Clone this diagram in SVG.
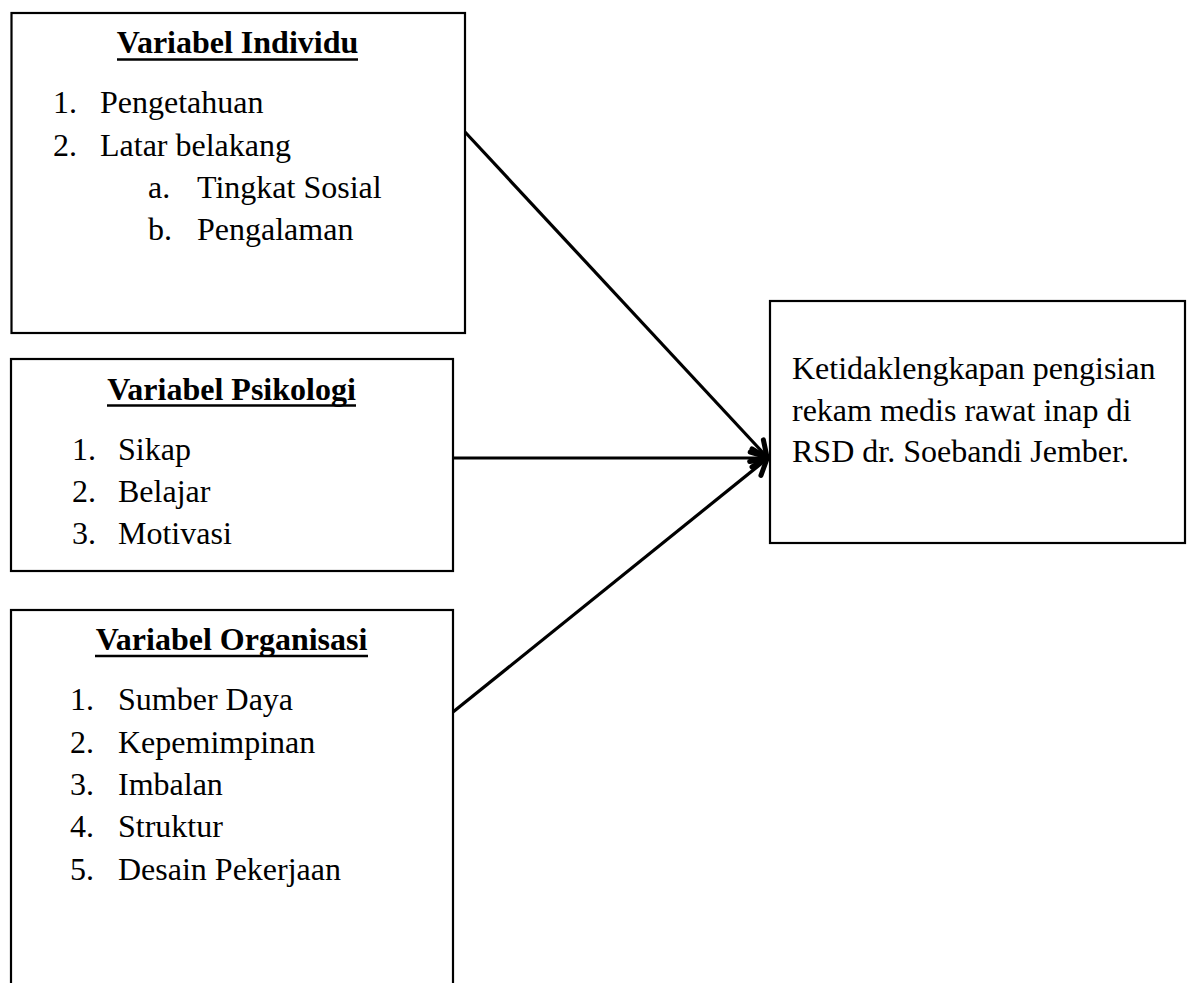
<svg xmlns="http://www.w3.org/2000/svg" width="1192" height="983" viewBox="0 0 1192 983">
<defs>
<style>
.box{fill:#fff;stroke:#000;stroke-width:2.2}
.t{font-family:'Liberation Serif','Times New Roman',serif;font-size:32px;fill:#000}
.h{font-family:'Liberation Serif','Times New Roman',serif;font-size:32px;font-weight:bold;fill:#000}
.ul{stroke:#000;stroke-width:2.5}
.c{stroke:#000;stroke-width:3.2;fill:none}
</style>
<marker id="arr" markerUnits="userSpaceOnUse" markerWidth="30" markerHeight="30" viewBox="-20 -15 24 30" refX="0" refY="0" orient="auto">
<path d="M-15,-9 L0,0 L-15,9" fill="none" stroke="#000" stroke-width="5" stroke-linecap="round" stroke-linejoin="round"/>
</marker>
</defs>
<rect width="1192" height="983" fill="#fff"/>
<g id="connectors">
<line class="c" x1="465" y1="132" x2="767" y2="457" marker-end="url(#arr)"/>
<line class="c" x1="453" y1="458" x2="767" y2="458" marker-end="url(#arr)"/>
<line class="c" x1="453" y1="712" x2="767" y2="459" marker-end="url(#arr)"/>
</g>
<g id="individu">
<rect class="box" x="11.5" y="13" width="453.5" height="320"/>
<text class="h" x="237.5" y="53" text-anchor="middle">Variabel Individu</text>
<line class="ul" x1="117" y1="59.5" x2="358" y2="59.5"/>
<text class="t" x="53" y="113">1.</text><text class="t" x="100" y="113">Pengetahuan</text>
<text class="t" x="53" y="156">2.</text><text class="t" x="100" y="156">Latar belakang</text>
<text class="t" x="148" y="198">a.</text><text class="t" x="197" y="198">Tingkat Sosial</text>
<text class="t" x="148" y="240">b.</text><text class="t" x="197" y="240">Pengalaman</text>
</g>
<g id="psikologi">
<rect class="box" x="11" y="359" width="442" height="212"/>
<text class="h" x="231.5" y="400" text-anchor="middle">Variabel Psikologi</text>
<line class="ul" x1="107" y1="405.5" x2="356" y2="405.5"/>
<text class="t" x="72" y="460">1.</text><text class="t" x="118" y="460">Sikap</text>
<text class="t" x="72" y="502">2.</text><text class="t" x="118" y="502">Belajar</text>
<text class="t" x="72" y="544">3.</text><text class="t" x="118" y="544">Motivasi</text>
</g>
<g id="organisasi">
<rect class="box" x="11" y="610" width="442" height="400"/>
<text class="h" x="231.5" y="650" text-anchor="middle">Variabel Organisasi</text>
<line class="ul" x1="95" y1="656" x2="368" y2="656"/>
<text class="t" x="70" y="710">1.</text><text class="t" x="118" y="710">Sumber Daya</text>
<text class="t" x="70" y="753">2.</text><text class="t" x="118" y="753">Kepemimpinan</text>
<text class="t" x="70" y="795">3.</text><text class="t" x="118" y="795">Imbalan</text>
<text class="t" x="70" y="837">4.</text><text class="t" x="118" y="837">Struktur</text>
<text class="t" x="70" y="880">5.</text><text class="t" x="118" y="880">Desain Pekerjaan</text>
</g>
<g id="outcome">
<rect class="box" x="770" y="301" width="415" height="242"/>
<text class="t" x="792" y="379">Ketidaklengkapan pengisian</text>
<text class="t" x="792" y="420.5">rekam medis rawat inap di</text>
<text class="t" x="792" y="462">RSD dr. Soebandi Jember.</text>
</g>
</svg>
